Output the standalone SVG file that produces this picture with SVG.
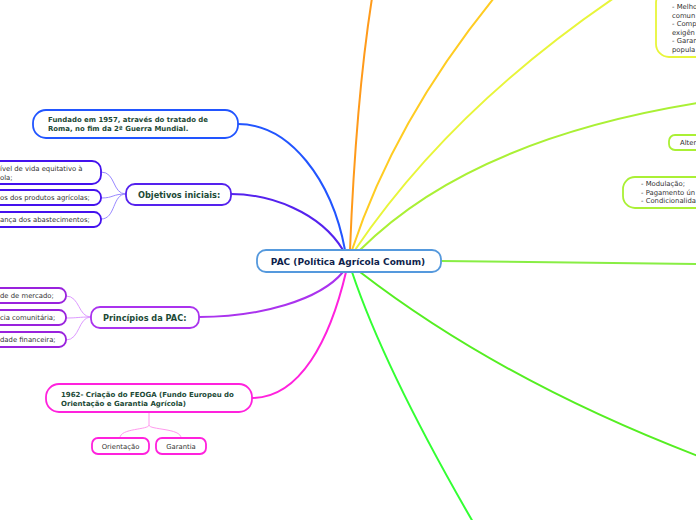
<svg xmlns="http://www.w3.org/2000/svg" width="696" height="520" viewBox="0 0 696 520">
<style>
.box{fill:#fff;stroke-width:1.8}
.main{font-family:"DejaVu Sans",Verdana,sans-serif;font-weight:bold;fill:#1c4a36}
.sub{font-family:"DejaVu Sans",Verdana,sans-serif;fill:#333;font-size:6.85px}
.br{fill:none;stroke-width:2;stroke-linecap:round}
.tw{fill:none;stroke-width:1}
</style>
<rect width="696" height="520" fill="#fff"/>
<g id="connectors">
<path class="br" d="M350,250 Q356,100 372,-2" stroke="#ff9a1a"/>
<path class="br" d="M352,250 Q395,120 494,-2" stroke="#ffcc22"/>
<path class="br" d="M355,250 Q450,110 614,-2" stroke="#e8f53a"/>
<path class="br" d="M360,250 Q470,140 698,103" stroke="#aaf035"/>
<path class="br" d="M441,261 L698,264" stroke="#88ee44"/>
<path class="br" d="M360,272 Q500,380 698,456" stroke="#55ee22"/>
<path class="br" d="M352,272 Q385,370 473,522" stroke="#33ff33"/>
<path class="br" d="M345,250 C332,180 290,124 238,124" stroke="#2255ff"/>
<path class="br" d="M343,250 C320,212 270,194 231,194" stroke="#5522ee"/>
<path class="br" d="M343,272 C320,300 260,317 199,317" stroke="#aa33ee"/>
<path class="br" d="M346,272 C330,340 300,398 252,398" stroke="#ff22dd"/>
<path class="tw" stroke="#9988ff" d="M126,194 C112,194 116,172 101,172 M126,194 C112,194 114,198 101,198 M126,194 C112,194 116,219 101,219"/>
<path class="tw" stroke="#dd99ff" d="M91,317 C78,317 80,296 66,296 M91,317 C78,317 78,318 66,318 M91,317 C78,317 80,340 66,340"/>
<path class="tw" stroke="#ff99ee" d="M149,412 L149,425 C149,430 120,428 120,438 M149,425 C149,430 181,428 181,438"/>
</g>
<g id="center">
<rect class="box" x="257" y="250" width="184" height="22" rx="9" stroke="#5599dd" stroke-width="1.3"/>
<text x="348" y="265" text-anchor="middle" font-family="DejaVu Sans,Verdana,sans-serif" font-weight="bold" font-size="9" fill="#0f1f4d">PAC (Política Agrícola Comum)</text>
</g>
<g id="n-melhoria">
<rect class="box" x="656" y="-10" width="60" height="67" rx="13" stroke="#e8f53a"/>
<text class="sub" x="672"><tspan y="9">- Melho</tspan><tspan x="672" y="17.5">comun</tspan><tspan x="672" y="26">- Comp</tspan><tspan x="672" y="34.5">exigên</tspan><tspan x="672" y="43">- Garan</tspan><tspan x="672" y="51.5">popula</tspan></text>
</g>
<g id="n-alter">
<rect class="box" x="669" y="135" width="40" height="15" rx="6" stroke="#aaf035"/>
<text class="sub" x="680" y="145">Alter</text>
</g>
<g id="n-modulacao">
<rect class="box" x="623" y="177" width="90" height="31" rx="12" stroke="#aaf035"/>
<text class="sub" x="641"><tspan y="186">- Modulação;</tspan><tspan x="641" y="194.5">- Pagamento ún</tspan><tspan x="641" y="203">- Condicionalida</tspan></text>
</g>
<g id="n-fundado">
<rect class="box" x="33" y="110" width="205" height="28" rx="13" stroke="#2255ff"/>
<text class="main" font-size="6.95" x="48"><tspan y="122">Fundado em 1957, através do tratado de</tspan><tspan x="48" y="131">Roma, no fim da 2ª Guerra Mundial.</tspan></text>
</g>
<g id="n-objetivos">
<rect class="box" x="126" y="184" width="105" height="21" rx="9" stroke="#5522ee"/>
<text class="main" font-size="8.2" x="138" y="198">Objetivos iniciais:</text>
</g>
<g id="n-obj1">
<rect class="box" x="-20" y="161" width="121" height="23" rx="9" stroke="#4411ee"/>
<text class="sub" x="0"><tspan y="171">ível de vida equitativo à</tspan><tspan x="0" y="179.5">ola;</tspan></text>
</g>
<g id="n-obj2">
<rect class="box" x="-20" y="190" width="121" height="15" rx="7" stroke="#4411ee"/>
<text class="sub" x="0" y="200">os dos produtos agrícolas;</text>
</g>
<g id="n-obj3">
<rect class="box" x="-20" y="212" width="121" height="15" rx="7" stroke="#4411ee"/>
<text class="sub" x="0" y="222">ança dos abastecimentos;</text>
</g>
<g id="n-principios">
<rect class="box" x="91" y="307" width="108" height="21" rx="9" stroke="#aa33ee"/>
<text class="main" font-size="8.2" x="103" y="321">Princípios da PAC:</text>
</g>
<g id="n-pr1">
<rect class="box" x="-20" y="288" width="86" height="15" rx="7" stroke="#9922dd"/>
<text class="sub" x="0" y="298">de de mercado;</text>
</g>
<g id="n-pr2">
<rect class="box" x="-20" y="310" width="86" height="15" rx="7" stroke="#9922dd"/>
<text class="sub" x="0" y="320">cia comunitária;</text>
</g>
<g id="n-pr3">
<rect class="box" x="-20" y="332" width="86" height="15" rx="7" stroke="#9922dd"/>
<text class="sub" x="0" y="342">dade financeira;</text>
</g>
<g id="n-feoga">
<rect class="box" x="46" y="384" width="206" height="28" rx="13" stroke="#ff22dd"/>
<text class="main" font-size="7" x="61"><tspan y="397">1962- Criação do FEOGA (Fundo Europeu do</tspan><tspan x="61" y="406">Orientação e Garantia Agrícola)</tspan></text>
</g>
<g id="n-orientacao">
<rect class="box" x="92" y="438" width="57" height="16" rx="6" stroke="#ff22dd"/>
<text class="sub" x="120.5" y="448.5" text-anchor="middle">Orientação</text>
</g>
<g id="n-garantia">
<rect class="box" x="156" y="438" width="50" height="16" rx="6" stroke="#ff22dd"/>
<text class="sub" x="181" y="448.5" text-anchor="middle">Garantia</text>
</g>
</svg>
